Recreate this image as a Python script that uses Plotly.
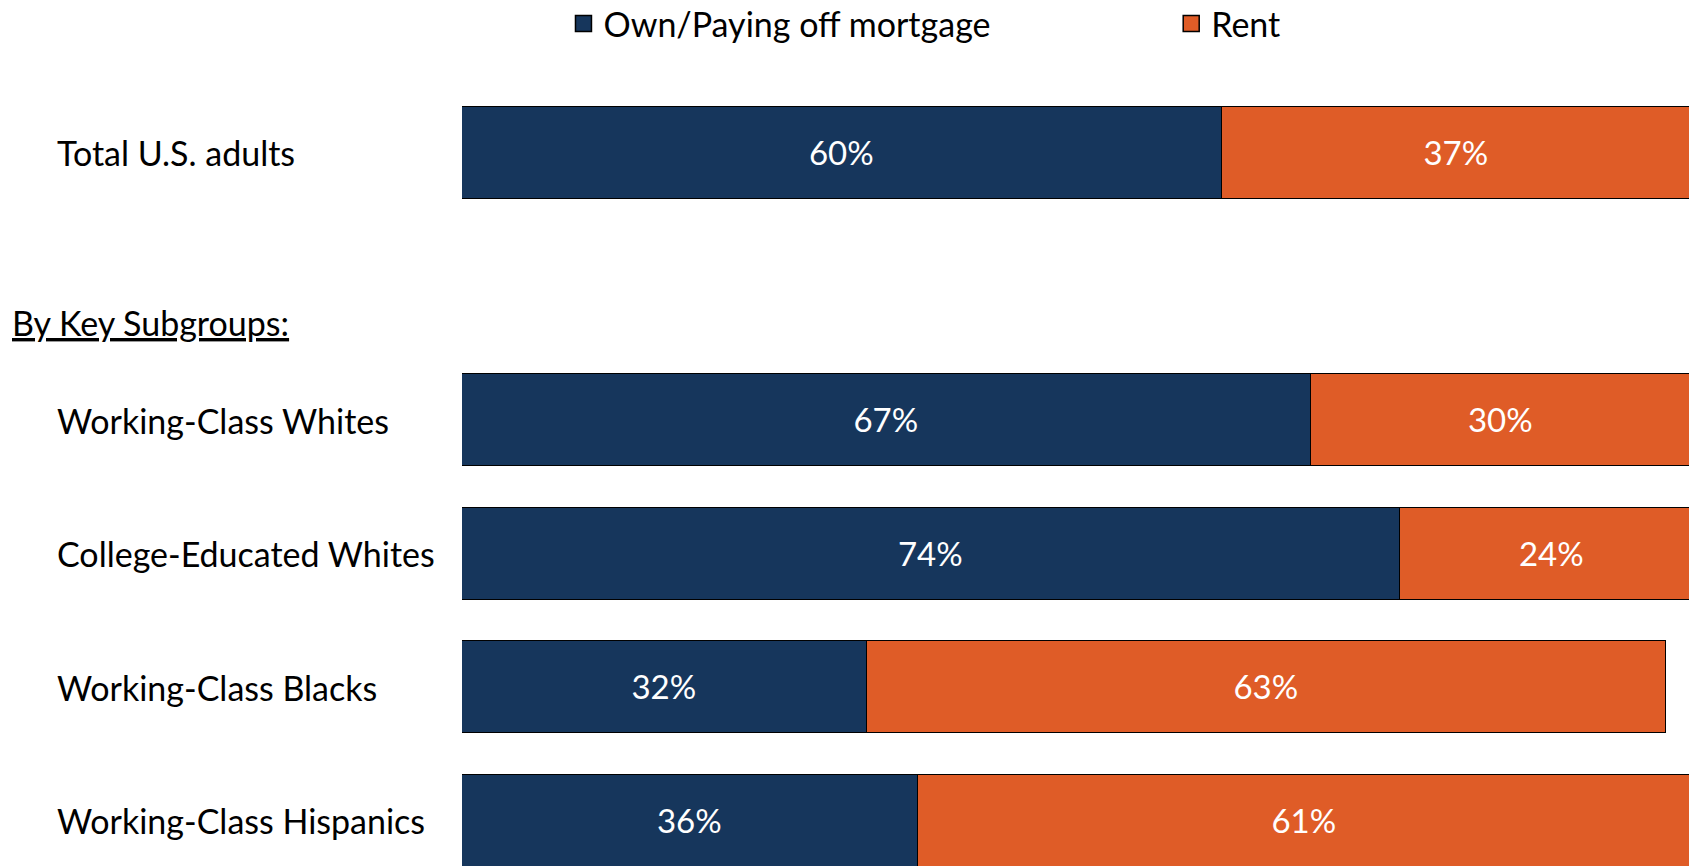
import plotly.graph_objects as go

categories = ["Total U.S. adults", "Working-Class Whites", "College-Educated Whites",
              "Working-Class Blacks", "Working-Class Hispanics"]
own_values = [60, 67, 74, 32, 36]
rent_values = [37, 30, 24, 63, 61]
series_names = ["Own/Paying off mortgage", "Rent"]
# slot positions (an empty slot separates the total from the subgroups)
slots = [0, 2, 3, 4, 5]
section_label = "By Key Subgroups:"

NAVY = "#16365C"
ORANGE = "#DF5C27"
FONT = "Lato"
FS = 34
FS_BAR = 33

fig = go.Figure()
for vals, name, col in [(own_values, series_names[0], NAVY), (rent_values, series_names[1], ORANGE)]:
    fig.add_trace(go.Bar(
        y=slots, x=vals, orientation="h", name=name,
        marker=dict(color=col, line=dict(color="black", width=1.5)),
        width=0.69, texttemplate="%{x}%", textposition="inside",
        insidetextanchor="middle", textfont=dict(color="white", size=FS_BAR, family=FONT),
        showlegend=False, constraintext="none", hoverinfo="x+name"))

# legend proxies, each in its own legend so they can be placed like the original
for name, col, lg in zip(series_names, [NAVY, ORANGE], ["legend", "legend2"]):
    fig.add_trace(go.Scatter(
        x=[None], y=[None], mode="markers", name=name, legend=lg,
        marker=dict(symbol="square", size=16, color=col, line=dict(color="black", width=1.5))))

annotations = []
for cat, s in zip(categories, slots):
    annotations.append(dict(x=-0.3315, xref="paper", y=s, yref="y", text=cat,
                            showarrow=False, xanchor="left", yanchor="middle",
                            font=dict(family=FONT, size=FS, color="black")))
annotations.append(dict(x=-0.3685, xref="paper", y=1.27, yref="y",
                        text="<u>" + section_label + "</u>", showarrow=False,
                        xanchor="left", yanchor="middle",
                        font=dict(family=FONT, size=FS, color="black")))

leg_common = dict(orientation="h", xanchor="left", y=0.9723, yanchor="middle",
                  font=dict(family=FONT, size=FS, color="black"),
                  bgcolor="rgba(0,0,0,0)")

fig.update_layout(
    width=1689, height=866,
    barmode="stack",
    bargap=0,
    margin=dict(l=462, r=0, t=0, b=0, autoexpand=False),
    plot_bgcolor="white", paper_bgcolor="white",
    xaxis=dict(range=[0, 96.84], visible=False, fixedrange=True),
    yaxis=dict(range=[5.337, -1.145], visible=False, fixedrange=True),
    legend=dict(x=0.0827, **leg_common),
    legend2=dict(x=0.578, **leg_common),
    annotations=annotations,
    font=dict(family=FONT),
)

fig.write_html("out.html", config={"displayModeBar": False},
               post_script="document.body.style.margin='0';document.body.style.overflow='hidden';")
